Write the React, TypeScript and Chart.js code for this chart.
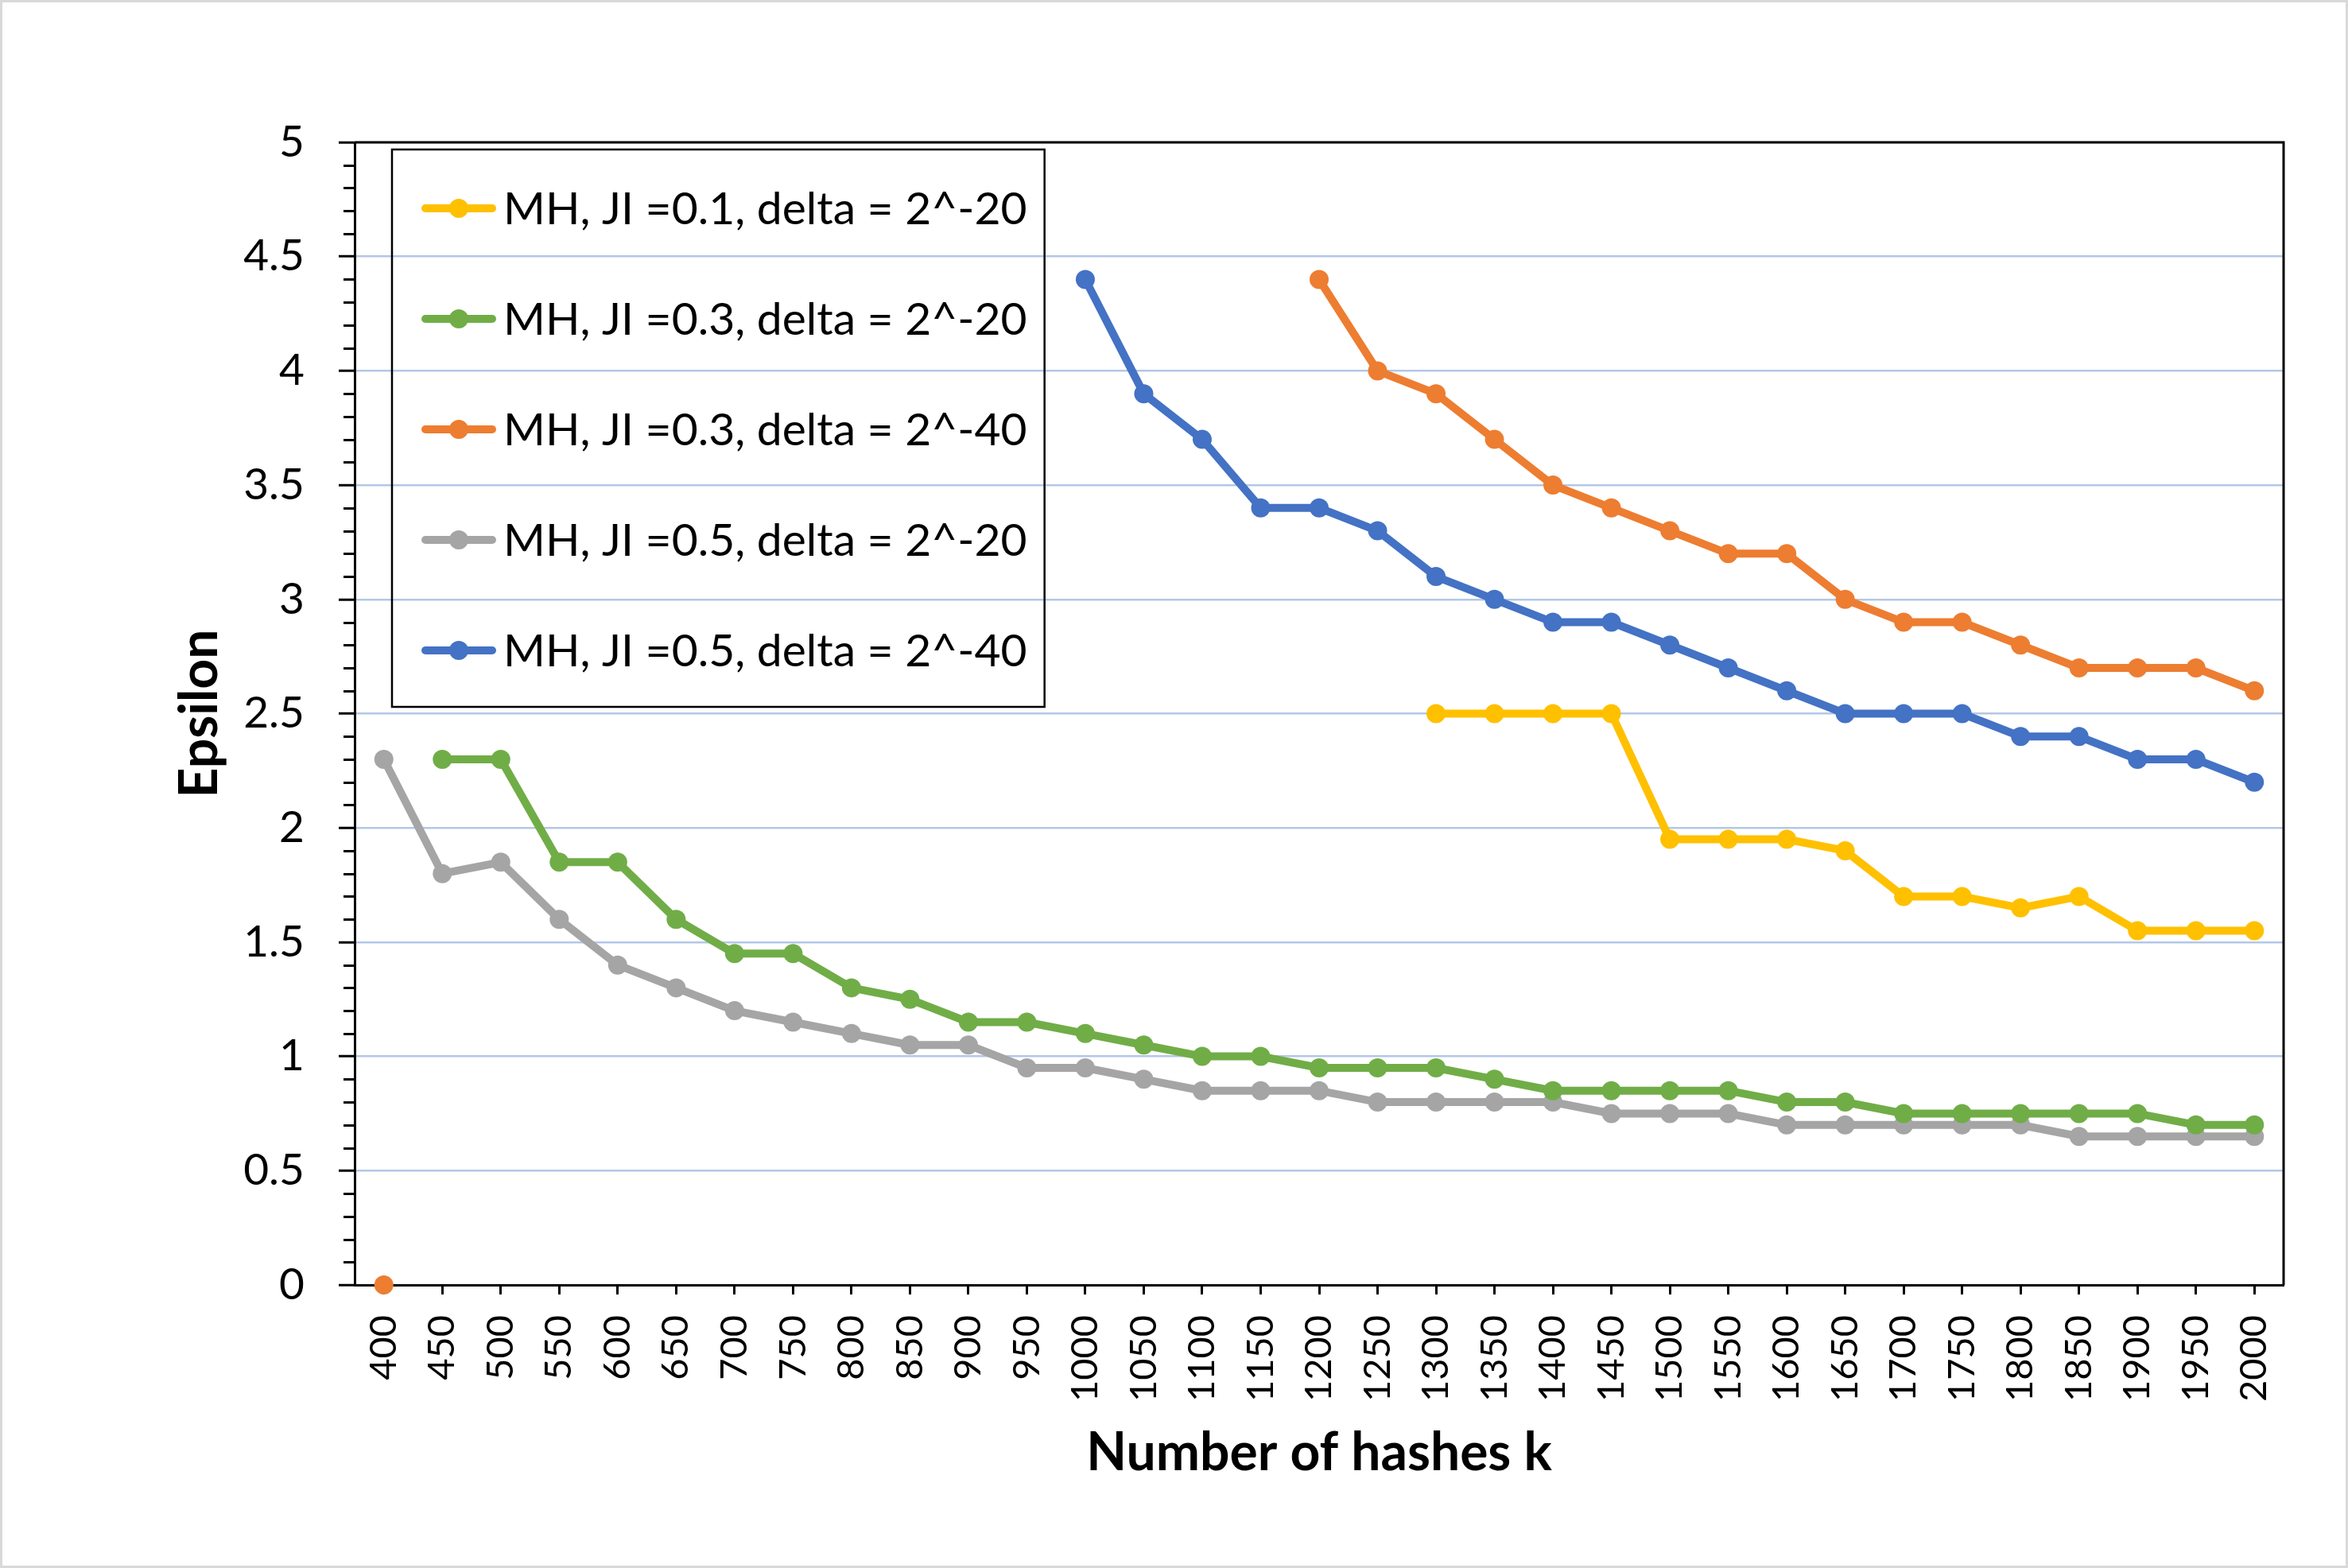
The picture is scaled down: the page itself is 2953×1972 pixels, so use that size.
import React, { useEffect, useRef } from 'react';
import { Chart, registerables } from 'chart.js';

Chart.register(...registerables);

const categories = [
  '400', '450', '500', '550', '600', '650', '700', '750', '800', '850', '900',
  '950', '1000', '1050', '1100', '1150', '1200', '1250', '1300', '1350', '1400',
  '1450', '1500', '1550', '1600', '1650', '1700', '1750', '1800', '1850', '1900',
  '1950', '2000',
];

const seriesLabels = [
  'MH, JI =0.1, delta = 2^-20',
  'MH, JI =0.3, delta = 2^-20',
  'MH, JI =0.3, delta = 2^-40',
  'MH, JI =0.5, delta = 2^-20',
  'MH, JI =0.5, delta = 2^-40',
];

const ji01d20: (number | null)[] = [
  null, null, null, null, null, null, null, null, null, null, null, null, null, null, null, null, null, null,
  2.5, 2.5, 2.5, 2.5, 1.95, 1.95, 1.95, 1.9, 1.7, 1.7, 1.65, 1.7, 1.55, 1.55, 1.55,
];

const ji03d20: (number | null)[] = [
  null, 2.3, 2.3, 1.85, 1.85, 1.6, 1.45, 1.45, 1.3, 1.25, 1.15, 1.15, 1.1, 1.05, 1.0, 1.0,
  0.95, 0.95, 0.95, 0.9, 0.85, 0.85, 0.85, 0.85, 0.8, 0.8, 0.75, 0.75, 0.75, 0.75, 0.75, 0.7, 0.7,
];

const ji03d40: (number | null)[] = [
  0, null, null, null, null, null, null, null, null, null, null, null, null, null, null, null,
  4.4, 4.0, 3.9, 3.7, 3.5, 3.4, 3.3, 3.2, 3.2, 3.0, 2.9, 2.9, 2.8, 2.7, 2.7, 2.7, 2.6,
];

const ji05d20: (number | null)[] = [
  2.3, 1.8, 1.85, 1.6, 1.4, 1.3, 1.2, 1.15, 1.1, 1.05, 1.05, 0.95, 0.95, 0.9, 0.85, 0.85, 0.85,
  0.8, 0.8, 0.8, 0.8, 0.75, 0.75, 0.75, 0.7, 0.7, 0.7, 0.7, 0.7, 0.65, 0.65, 0.65, 0.65,
];

const ji05d40: (number | null)[] = [
  null, null, null, null, null, null, null, null, null, null, null, null,
  4.4, 3.9, 3.7, 3.4, 3.4, 3.3, 3.1, 3.0, 2.9, 2.9, 2.8, 2.7, 2.6, 2.5, 2.5, 2.5, 2.4, 2.4, 2.3, 2.3, 2.2,
];

const seriesValues = [ji01d20, ji03d20, ji03d40, ji05d20, ji05d40];
const seriesColors = ['#FFC000', '#70AD47', '#ED7D31', '#A5A5A5', '#4472C4'];

const yMin = 0;
const yMax = 5;
const yMinorStep = 0.1;
const yMajorStep = 0.5;

const W = 2953;
const H = 1972;

const isMajor = (v: number) => Math.abs(v / yMajorStep - Math.round(v / yMajorStep)) < 1e-6;

const framePlugin = {
  id: 'frame',
  beforeDraw(chart: any) {
    const { ctx } = chart;
    ctx.save();
    ctx.fillStyle = '#ffffff';
    ctx.fillRect(0, 0, chart.width, chart.height);
    ctx.strokeStyle = '#D9D9D9';
    ctx.lineWidth = 3;
    ctx.strokeRect(1.5, 1.5, chart.width - 3, chart.height - 3);
    ctx.restore();
  },
  afterDraw(chart: any) {
    const { ctx, chartArea } = chart;
    ctx.save();
    ctx.strokeStyle = '#000000';
    ctx.lineWidth = 3;
    ctx.beginPath();
    ctx.moveTo(chartArea.left, chartArea.top);
    ctx.lineTo(chartArea.right, chartArea.top);
    ctx.lineTo(chartArea.right, chartArea.bottom);
    ctx.stroke();
    // minor ticks on the y axis (shorter than the major ones)
    const y = chart.scales.y;
    ctx.lineWidth = 3;
    y.ticks.forEach((t: any) => {
      if (isMajor(t.value)) return;
      const py = Math.round(y.getPixelForValue(t.value)) + 0.5;
      ctx.beginPath();
      ctx.moveTo(chartArea.left - 14, py);
      ctx.lineTo(chartArea.left, py);
      ctx.stroke();
    });
    ctx.restore();
  },
};

const insideLegendPlugin = {
  id: 'insideLegend',
  afterDraw(chart: any) {
    const { ctx, chartArea } = chart;
    const ds = chart.data.datasets;
    const boxX = chartArea.left + 47;
    const boxY = chartArea.top + 9;
    const rowH = 139;
    const fontSize = 57;
    ctx.save();
    ctx.font = `${fontSize}px Lato`;
    let maxW = 0;
    ds.forEach((d: any) => {
      maxW = Math.max(maxW, ctx.measureText(d.label).width);
    });
    const textX = boxX + 140;
    const boxW = 140 + maxW + 22;
    const boxH = rowH * ds.length + 6;
    ctx.strokeStyle = '#000000';
    ctx.lineWidth = 2.5;
    ctx.strokeRect(boxX, boxY, boxW, boxH);
    ds.forEach((d: any, i: number) => {
      const cy = boxY + 74 + i * rowH;
      ctx.strokeStyle = d.borderColor;
      ctx.lineWidth = 10;
      ctx.lineCap = 'round';
      ctx.beginPath();
      ctx.moveTo(boxX + 42, cy);
      ctx.lineTo(boxX + 126, cy);
      ctx.stroke();
      ctx.fillStyle = d.borderColor;
      ctx.beginPath();
      ctx.arc(boxX + 84, cy, 12, 0, Math.PI * 2);
      ctx.fill();
      ctx.fillStyle = '#000000';
      ctx.textAlign = 'left';
      ctx.textBaseline = 'middle';
      ctx.fillText(d.label, textX, cy + 2);
    });
    ctx.restore();
  },
};

export default function App() {
  const canvasRef = useRef<HTMLCanvasElement | null>(null);

  useEffect(() => {
    document.body.style.margin = '0';
    const canvas = canvasRef.current;
    if (!canvas) return;
    Chart.defaults.font.family = 'Lato';
    Chart.defaults.color = '#000000';

    const chart = new Chart(canvas, {
      type: 'line',
      data: {
        labels: categories,
        datasets: seriesValues.map((vals, i) => ({
          label: seriesLabels[i],
          data: vals,
          borderColor: seriesColors[i],
          backgroundColor: seriesColors[i],
          pointBackgroundColor: seriesColors[i],
          pointBorderColor: seriesColors[i],
          pointBorderWidth: 0,
          pointRadius: 12,
          pointHoverRadius: 12,
          borderWidth: 10,
          tension: 0,
          spanGaps: false,
          fill: false,
          clip: false as any,
        })),
      },
      options: {
        responsive: false,
        animation: false,
        devicePixelRatio: 1,
        layout: { padding: { top: 179, right: 81, left: 0, bottom: 0 } },
        plugins: {
          legend: { display: false },
          tooltip: { enabled: false },
        },
        scales: {
          x: {
            type: 'category',
            offset: true,
            afterFit(scale: any) {
              scale.height = 356;
            },
            grid: {
              drawOnChartArea: false,
              drawTicks: true,
              tickLength: 12,
              tickColor: '#000000',
              tickWidth: 3,
              offset: false,
            },
            border: { color: '#000000', width: 3 },
            ticks: {
              autoSkip: false,
              minRotation: 90,
              maxRotation: 90,
              padding: 26,
              font: { size: 47 },
              color: '#000000',
            },
            title: {
              display: true,
              text: 'Number of hashes k',
              font: { size: 66, weight: 'bold' },
              color: '#000000',
              padding: { top: 0, bottom: 105 },
            },
          },
          y: {
            type: 'linear',
            min: yMin,
            max: yMax,
            afterFit(scale: any) {
              scale.width = 446;
            },
            grid: {
              color: (ctx: any) => (ctx.tick && isMajor(ctx.tick.value) ? '#B4C7E7' : 'rgba(0,0,0,0)'),
              lineWidth: 2.5,
              drawTicks: true,
              tickLength: 20,
              tickColor: (ctx: any) => (ctx.tick && isMajor(ctx.tick.value) ? '#000000' : 'rgba(0,0,0,0)'),
              tickWidth: 3,
            },
            border: { color: '#000000', width: 3 },
            ticks: {
              stepSize: yMinorStep,
              autoSkip: false,
              maxTicksLimit: 100,
              padding: 43,
              font: { size: 55 },
              color: '#000000',
              callback: (v: any) => (isMajor(Number(v)) ? String(Math.round(Number(v) * 10) / 10) : ''),
            },
            title: {
              display: true,
              text: 'Epsilon',
              font: { size: 66, weight: 'bold' },
              color: '#000000',
              padding: { top: 212, bottom: 0 },
            },
          },
        },
      },
      plugins: [framePlugin, insideLegendPlugin],
    });

    return () => {
      chart.destroy();
    };
  }, []);

  return (
    <div style={{ width: W, height: H, position: 'relative' }}>
      <canvas ref={canvasRef} width={W} height={H} style={{ width: W, height: H, display: 'block' }} />
    </div>
  );
}
